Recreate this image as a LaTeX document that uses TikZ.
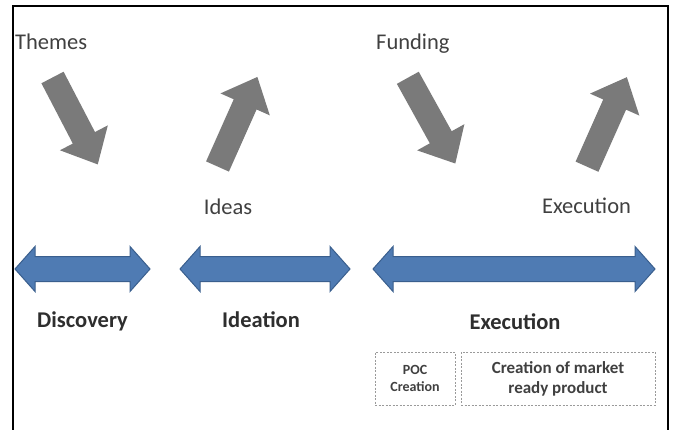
\documentclass[tikz,border=0pt]{standalone}
\usepackage{fontspec}
\setmainfont{Carlito}
\definecolor{arrgray}{HTML}{7A7A7A}
\definecolor{blfill}{HTML}{4F7BB3}
\definecolor{bldraw}{HTML}{3A5F8E}
\definecolor{txtgray}{HTML}{404040}
\definecolor{boldtxt}{HTML}{2E2E2E}
\definecolor{dashgray}{HTML}{9A9A9A}
\newcommand{\grayblockarrow}[3]{%
  \begin{scope}[shift={(#1,#2)},rotate=#3]
    \fill[arrgray] (0,12.5) -- (68,12.5) -- (68,27) -- (98,0) -- (68,-27) -- (68,-12.5) -- (0,-12.5) -- cycle;
  \end{scope}}
\newcommand{\bluedoublearrow}[2]{%
  \filldraw[fill=blfill,draw=bldraw,line width=1pt]
    (#1,269) -- (#1+20,246.5) -- (#1+20,256.5) -- (#2-20,256.5) -- (#2-20,246.5) -- (#2,269)
    -- (#2-20,291.5) -- (#2-20,281.5) -- (#1+20,281.5) -- (#1+20,291.5) -- cycle;}
\begin{document}
\begin{tikzpicture}[x=1pt,y=-1pt,
  toplabel/.style={inner sep=0pt,text=txtgray,font=\fontsize{22.5}{27}\selectfont},
  phaselabel/.style={inner sep=0pt,text=boldtxt,font=\fontsize{22.5}{27}\selectfont\bfseries},
  subbox/.style={draw=dashgray,dash pattern=on 2pt off 1.5pt,line width=0.9pt,inner sep=0pt,
    align=center,text=txtgray}]
\useasboundingbox (0,0) rectangle (674,430);
\fill[white] (0,0) rectangle (674,430);
% frame
\draw[black,line width=2.5pt] (13,430) -- (13,6) -- (668,6) -- (668,430);
% gray arrows
\grayblockarrow{52.5}{77.5}{-62.5}
\grayblockarrow{217.5}{166.5}{66}
\grayblockarrow{407.8}{77.8}{-61}
\grayblockarrow{587}{166.7}{66}
% top labels
\node[toplabel,anchor=base west] (themes) at (15,50) {Themes};
\node[toplabel,anchor=base west] (funding) at (376,50) {Funding};
\node[toplabel,anchor=base] (ideas) at (228,215) {Ideas};
\node[toplabel,anchor=base] (exec1) at (586.5,214) {Execution};
% blue double arrows
\bluedoublearrow{15}{150}
\bluedoublearrow{180}{350}
\bluedoublearrow{373}{655}
% phase labels
\node[phaselabel,anchor=base] (disc) at (82.5,327) {Discovery};
\node[phaselabel,anchor=base] (idea) at (261,327) {Ideation};
\node[phaselabel,anchor=base] (exec2) at (515,329) {Execution};
% sub boxes
\node[subbox,minimum width=80pt,minimum height=53pt,font=\fontsize{14}{17}\selectfont\bfseries] (poc) at (415,378.5) {POC\\Creation};
\node[subbox,minimum width=194pt,minimum height=53pt,font=\fontsize{17}{20}\selectfont\bfseries] (mkt) at (558,378.5) {Creation of market\\ready product};
\end{tikzpicture}
\end{document}
